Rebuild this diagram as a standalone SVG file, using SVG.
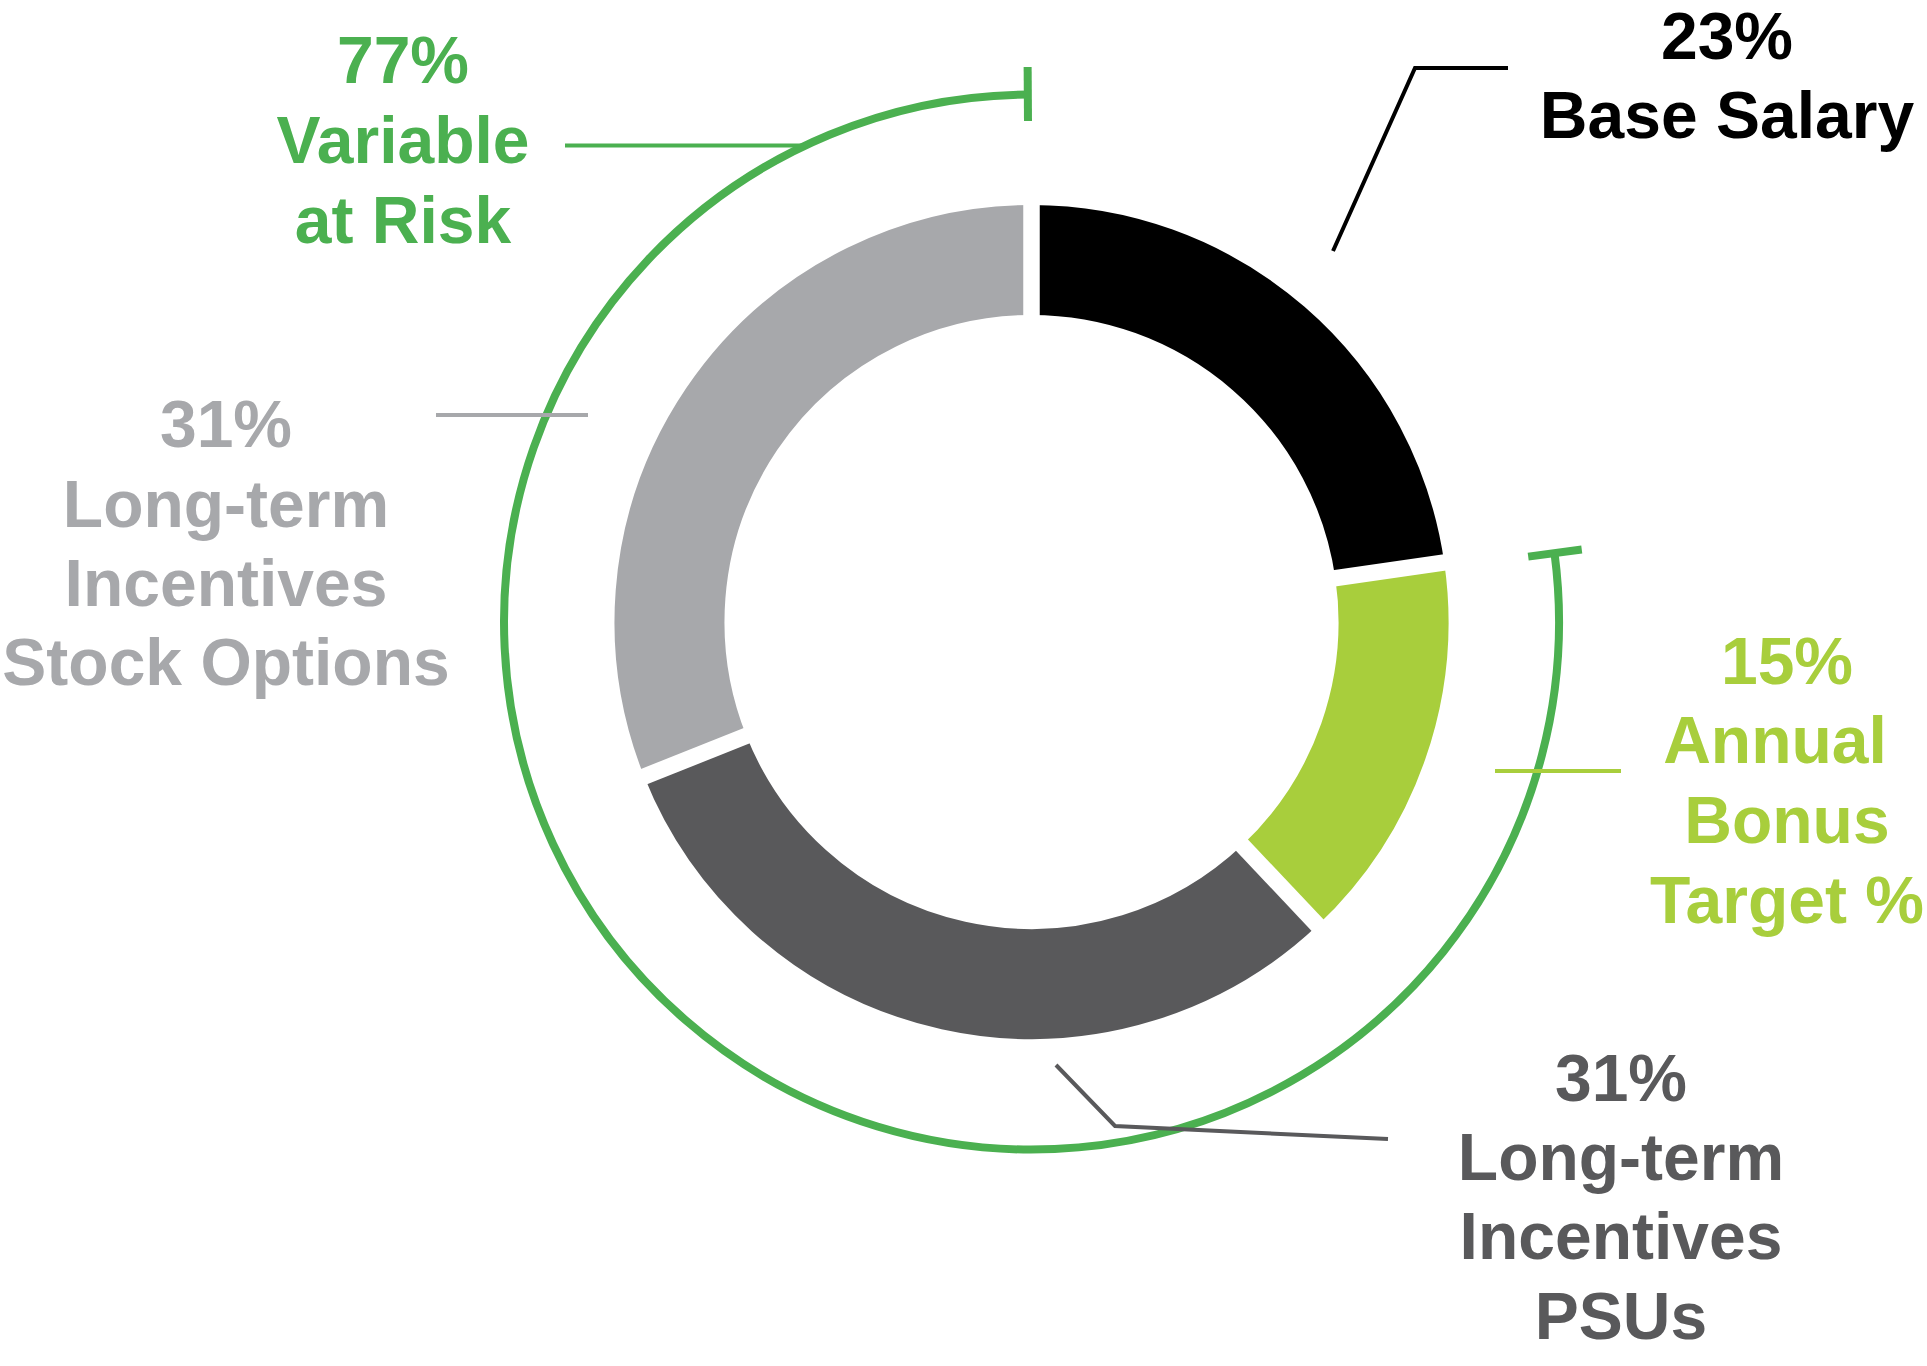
<svg xmlns="http://www.w3.org/2000/svg" width="1927" height="1366" viewBox="0 0 1927 1366">
<style>
  text { font-family: "Liberation Sans", Arial, sans-serif; font-weight: bold; font-size: 66px; text-anchor: middle; }
  .seg { fill: none; stroke-width: 110; }
  .gap { stroke: #ffffff; stroke-width: 16.5; }
  .ring { fill: none; stroke: #4bb050; stroke-width: 8; }
  .lead { fill: none; stroke-width: 4; }
</style>
<rect width="1927" height="1366" fill="#ffffff"/>
<g id="donut" transform="translate(1031.5,622)">
  <g id="seg-base-salary"><path class="seg" stroke="#000000" d="M0,-362 A362,362 0 0 1 358.30,-51.63"/></g>
  <g id="seg-annual-bonus"><path class="seg" stroke="#a8ce3c" d="M358.30,-51.63 A362,362 0 0 1 248.42,263.31"/></g>
  <g id="seg-psus"><path class="seg" stroke="#59595b" d="M248.42,263.31 A362,362 0 0 1 -336.23,134.19"/></g>
  <g id="seg-stock-options"><path class="seg" stroke="#a7a8ab" d="M-336.23,134.19 A362,362 0 0 1 0,-362"/></g>
  <line class="gap" x1="0" y1="-295" x2="0" y2="-430"/>
  <line class="gap" x1="291.99" y1="-42.08" x2="425.61" y2="-61.33"/>
  <line class="gap" x1="202.44" y1="214.57" x2="295.08" y2="312.77"/>
  <line class="gap" x1="-274.0" y1="109.35" x2="-399.39" y2="159.40"/>
</g>
<g id="variable-ring" transform="translate(1031.5,622)">
  <path class="ring" d="M523.0,-68.86 A527.5,527.5 0 1 1 -3.68,-527.49"/>
  <line class="ring" x1="496.7" y1="-65.4" x2="550.25" y2="-72.44"/>
  <line class="ring" x1="-3.5" y1="-501" x2="-3.87" y2="-555"/>
</g>
<g id="connectors">
  <polyline class="lead" stroke="#000000" stroke-width="3.5" points="1333,251 1415,68 1508,68"/>
  <line class="lead" stroke="#4bb050" x1="565" y1="145.5" x2="805" y2="145.5"/>
  <line class="lead" stroke="#a7a8ab" x1="436" y1="415" x2="588" y2="415"/>
  <line class="lead" stroke="#a8ce3c" x1="1495" y1="771" x2="1621" y2="771"/>
  <polyline class="lead" stroke="#59595b" points="1056,1065 1115,1126 1388,1139"/>
</g>
<g id="label-base-salary" fill="#000000">
  <text x="1727" y="59">23%</text>
  <text x="1727" y="138">Base Salary</text>
</g>
<g id="label-variable" fill="#4bb050">
  <text x="403" y="83">77%</text>
  <text x="403" y="163">Variable</text>
  <text x="403" y="243">at Risk</text>
</g>
<g id="label-stock-options" fill="#a7a8ab">
  <text x="226" y="447">31%</text>
  <text x="226" y="527">Long-term</text>
  <text x="226" y="606">Incentives</text>
  <text x="226" y="685">Stock Options</text>
</g>
<g id="label-annual-bonus" fill="#a8ce3c">
  <text x="1787" y="684">15%</text>
  <text x="1775" y="763">Annual</text>
  <text x="1787" y="843">Bonus</text>
  <text x="1787" y="923">Target %</text>
</g>
<g id="label-psus" fill="#59595b">
  <text x="1621" y="1101">31%</text>
  <text x="1621" y="1180">Long-term</text>
  <text x="1621" y="1259">Incentives</text>
  <text x="1621" y="1339">PSUs</text>
</g>
</svg>
